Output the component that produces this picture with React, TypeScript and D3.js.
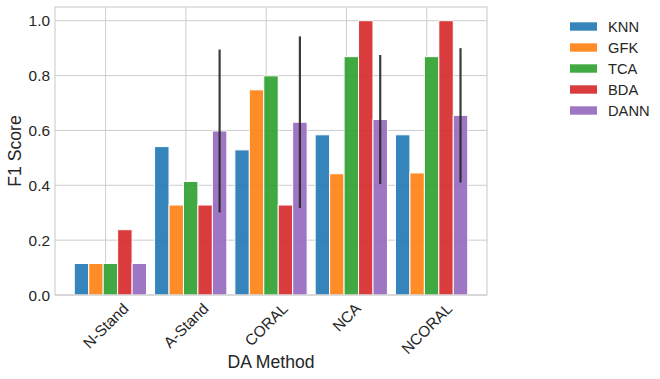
import React, { useEffect, useRef } from 'react';
import * as d3 from 'd3';

const categories = ['N-Stand', 'A-Stand', 'CORAL', 'NCA', 'NCORAL'];
const methods = ['KNN', 'GFK', 'TCA', 'BDA', 'DANN'];
const knn = [0.115, 0.541, 0.529, 0.584, 0.584];
const gfk = [0.115, 0.328, 0.748, 0.442, 0.445];
const tca = [0.115, 0.414, 0.799, 0.869, 0.869];
const bda = [0.238, 0.328, 0.328, 1.0, 1.0];
const dann = [0.115, 0.598, 0.63, 0.64, 0.655];
const dannErr = [0, 0.297, 0.313, 0.235, 0.245];
const yTicks = [0, 0.2, 0.4, 0.6, 0.8, 1.0];

const series = [knn, gfk, tca, bda, dann];
const colors = ['#1f77b4', '#ff7f0e', '#2ca02c', '#d62728', '#9467bd'];

const W = 660;
const H = 379;
const margin = { top: 7, right: 173, bottom: 84, left: 55 };
const barW = 0.18; // bar width in category units
const textColor = '#262626';
const font = '"Liberation Sans", Arial, sans-serif';

const App = () => {
  const ref = useRef<SVGSVGElement>(null);

  useEffect(() => {
    const svg = d3.select(ref.current);
    svg.selectAll('*').remove();

    const x = d3.scaleLinear([-0.63, 4.75], [margin.left, W - margin.right]);
    const y = d3.scaleLinear([0, 1.05], [H - margin.bottom, margin.top]);

    svg.append('rect').attr('width', W).attr('height', H).attr('fill', 'white');

    // grid
    const grid = svg.append('g').attr('stroke', '#cccccc').attr('stroke-width', 1);
    grid.selectAll('line.h')
      .data(yTicks)
      .join('line')
      .attr('x1', x.range()[0]).attr('x2', x.range()[1])
      .attr('y1', d => y(d)).attr('y2', d => y(d));
    grid.selectAll('line.v')
      .data(categories.map((_, i) => i))
      .join('line')
      .attr('x1', d => x(d)).attr('x2', d => x(d))
      .attr('y1', y.range()[0]).attr('y2', y.range()[1]);

    // bars
    series.forEach((vals, s) => {
      const off = (s - 2) * barW + 0.06;
      svg.append('g')
        .selectAll('rect')
        .data(vals)
        .join('rect')
        .attr('x', (_, i) => x(i + off - barW / 2))
        .attr('width', x(barW) - x(0))
        .attr('y', d => y(d))
        .attr('height', d => y(0) - y(d))
        .attr('fill', colors[s])
        .attr('fill-opacity', 0.9)
        .attr('stroke', 'white')
        .attr('stroke-width', 1);
    });

    // error bars on DANN
    const dOff = 2 * barW + 0.06;
    svg.append('g')
      .selectAll('line')
      .data(dann.map((v, i) => ({ v, e: dannErr[i], i })).filter(d => d.e > 0))
      .join('line')
      .attr('x1', d => x(d.i + dOff)).attr('x2', d => x(d.i + dOff))
      .attr('y1', d => y(d.v - d.e)).attr('y2', d => y(d.v + d.e))
      .attr('stroke', '#262626')
      .attr('stroke-opacity', 0.9)
      .attr('stroke-width', 2.2);

    // frame
    svg.append('rect')
      .attr('x', x.range()[0]).attr('y', y.range()[1])
      .attr('width', x.range()[1] - x.range()[0])
      .attr('height', y.range()[0] - y.range()[1])
      .attr('fill', 'none')
      .attr('stroke', '#cccccc')
      .attr('stroke-width', 1.1);

    // y tick labels
    svg.append('g')
      .selectAll('text')
      .data(yTicks)
      .join('text')
      .attr('x', margin.left - 5)
      .attr('y', d => y(d))
      .attr('dy', '0.36em')
      .attr('text-anchor', 'end')
      .attr('font-family', font)
      .attr('font-size', 15.4)
      .attr('fill', textColor)
      .text(d => d3.format('.1f')(d));

    // x tick labels, rotated 45 and centred under the tick
    const fs = 15.4;
    const xl = svg.append('g')
      .selectAll('text')
      .data(categories)
      .join('text')
      .attr('text-anchor', 'middle')
      .attr('dominant-baseline', 'central')
      .attr('font-family', font)
      .attr('font-size', fs)
      .attr('fill', textColor)
      .text(d => d);
    xl.each(function (_, i) {
      const t = this as SVGTextElement;
      const w = t.getComputedTextLength();
      const cy = y(0) + 5 + (w + fs * 1.05) / (2 * Math.SQRT2);
      d3.select(t).attr('transform', `translate(${x(i)},${cy}) rotate(-45)`);
    });

    // axis titles
    svg.append('text')
      .attr('x', (x.range()[0] + x.range()[1]) / 2)
      .attr('y', 367.5)
      .attr('text-anchor', 'middle')
      .attr('font-family', font)
      .attr('font-size', 17.6)
      .attr('fill', textColor)
      .text('DA Method');
    svg.append('text')
      .attr('transform', `translate(20.5,${(y.range()[0] + y.range()[1]) / 2}) rotate(-90)`)
      .attr('text-anchor', 'middle')
      .attr('font-family', font)
      .attr('font-size', 17.6)
      .attr('fill', textColor)
      .text('F1 Score');

    // legend
    const lg = svg.append('g')
      .selectAll('g')
      .data(methods)
      .join('g')
      .attr('transform', (_, i) => `translate(570,${26.5 + 21 * i})`);
    lg.append('rect')
      .attr('x', 0).attr('y', -4.2)
      .attr('width', 27).attr('height', 8.4)
      .attr('fill', (_, i) => colors[i])
      .attr('fill-opacity', 0.9);
    lg.append('text')
      .attr('x', 38)
      .attr('dy', '0.36em')
      .attr('font-family', font)
      .attr('font-size', 14.7)
      .attr('fill', textColor)
      .text(d => d);
  }, []);

  return (
    <svg
      ref={ref}
      width={W}
      height={H}
      style={{ position: 'absolute', left: 0, top: 0, display: 'block' }}
    />
  );
};

export default App;
